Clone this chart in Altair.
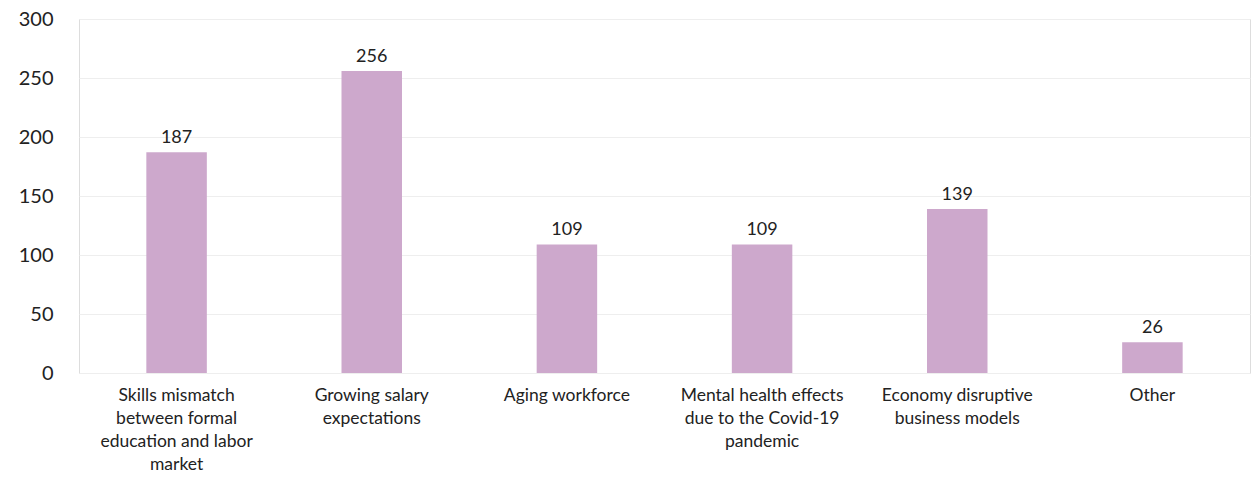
import altair as alt
import pandas as pd

categories = [
    "Skills mismatch|between formal|education and labor|market",
    "Growing salary|expectations",
    "Aging workforce",
    "Mental health effects|due to the Covid-19|pandemic",
    "Economy disruptive|business models",
    "Other",
]
values = [187, 256, 109, 109, 139, 26]

df = pd.DataFrame({"category": categories, "value": values})

FONT = "Lato"
TEXT = "#222222"

base = alt.Chart(df).encode(
    x=alt.X(
        "category:N",
        sort=categories,
        scale=alt.Scale(paddingInner=0.69, paddingOuter=0.345),
        axis=alt.Axis(
            title=None,
            labelAngle=0,
            labelExpr="split(datum.label, '|')",
            labelFont=FONT,
            labelFontSize=17.5,
            labelColor=TEXT,
            labelLineHeight=23,
            labelPadding=13,
            labelLimit=300,
            ticks=False,
            tickSize=0,
            domain=False,
            grid=False,
        ),
    ),
    y=alt.Y(
        "value:Q",
        scale=alt.Scale(domain=[0, 300]),
        axis=alt.Axis(
            title=None,
            values=[0, 50, 100, 150, 200, 250, 300],
            labelFont=FONT,
            labelFontSize=20,
            labelColor=TEXT,
            labelPadding=26,
            ticks=False,
            tickSize=0,
            domain=False,
            grid=True,
            gridColor="#eeeeee",
            gridWidth=1,
        ),
    ),
)

bars = base.mark_bar(color="#cda8cc")
labels = base.mark_text(
    baseline="bottom", dy=-5, font=FONT, fontSize=18, color=TEXT
).encode(text="value:Q")

chart = (
    (bars + labels)
    .properties(
        width=1171,
        height=354,
        autosize=alt.AutoSizeParams(type="none"),
        padding={"left": 79, "top": 19, "right": 7, "bottom": 104},
    )
    .configure_view(stroke="transparent", strokeWidth=0)
    .configure_axis(domain=False, domainOpacity=0)
    .configure_axisX(grid=False, domain=False)
    .configure(background="white")
)

chart.save("out.html", embed_options={"renderer": "svg", "actions": False})
